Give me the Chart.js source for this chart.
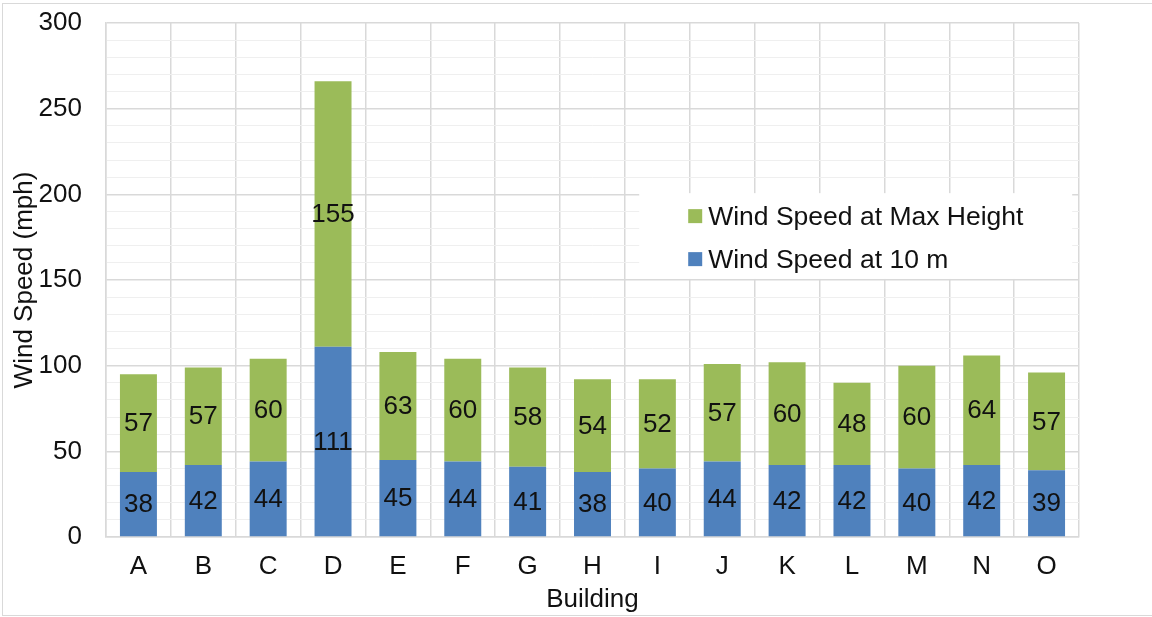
<!DOCTYPE html>
<html>
<head>
<meta charset="utf-8">
<script src="https://cdn.jsdelivr.net/npm/chart.js"></script>
<style>
  body { margin: 0; background: #fff; }
  #wrap { position: relative; width: 1152px; height: 617px; }
  #frame { position: absolute; left: 2px; top: 3px; width: 1150px; height: 611px;
           border-left: 1px solid #d9d9d9; border-top: 1px solid #d9d9d9; border-bottom: 1px solid #d9d9d9; }
  canvas { position: absolute; left: 0; top: 0; }
</style>
</head>
<body>
<div id="wrap">
  <div id="frame"></div>
  <canvas id="windChart" width="1152" height="617"></canvas>
</div>
<script>
const buildings = ['A','B','C','D','E','F','G','H','I','J','K','L','M','N','O'];
const speedAt10m = [38, 42, 44, 111, 45, 44, 41, 38, 40, 44, 42, 42, 40, 42, 39];
const speedAtMax = [57, 57, 60, 155, 63, 60, 58, 54, 52, 57, 60, 48, 60, 64, 57];
const yTicks = [0, 50, 100, 150, 200, 250, 300];

const FONT = "'Liberation Sans', Arial, sans-serif";
const TEXT = '#111';
const SIZE = 26;

// numbers in the middle of each stacked segment
const segmentLabels = {
  id: 'segmentLabels',
  afterDatasetsDraw(chart) {
    const ctx = chart.ctx;
    ctx.save();
    ctx.font = SIZE + 'px ' + FONT;
    ctx.fillStyle = TEXT;
    ctx.textAlign = 'center';
    ctx.textBaseline = 'middle';
    chart.data.datasets.forEach((ds, di) => {
      chart.getDatasetMeta(di).data.forEach((bar, i) => {
        const p = bar.getProps(['x', 'y', 'base'], true);
        ctx.fillText(ds.data[i], p.x, (p.y + p.base) / 2 + 1);
      });
    });
    ctx.restore();
  }
};

// legend box sitting inside the plot area
const insideLegend = {
  id: 'insideLegend',
  afterDatasetsDraw(chart) {
    const { ctx, chartArea } = chart;
    const w = chartArea.right - chartArea.left;
    const h = chartArea.bottom - chartArea.top;
    const bx = chartArea.left + w * 0.548;
    const by = chartArea.top + h * 0.331;
    const bw = w * 0.445;
    const bh = h * 0.167;
    ctx.save();
    ctx.fillStyle = '#fff';
    ctx.fillRect(bx, by, bw, bh);
    ctx.font = '26.5px ' + FONT;
    ctx.textBaseline = 'middle';
    const items = chart.data.datasets.slice().reverse();
    items.forEach((ds, k) => {
      const cy = by + 23 + k * 43;
      ctx.fillStyle = ds.backgroundColor;
      ctx.fillRect(bx + 49, cy - 7, 14, 14);
      ctx.fillStyle = TEXT;
      ctx.fillText(ds.label, bx + 69, cy + 2);
    });
    ctx.restore();
  }
};

new Chart(document.getElementById('windChart'), {
  type: 'bar',
  data: {
    labels: buildings,
    datasets: [
      { label: 'Wind Speed at 10 m', data: speedAt10m, backgroundColor: '#4f81bd' },
      { label: 'Wind Speed at Max Height', data: speedAtMax, backgroundColor: '#9bbb59' }
    ]
  },
  options: {
    responsive: false,
    animation: false,
    layout: { padding: { left: 0, top: 23, right: 73, bottom: 0 } },
    datasets: { bar: { categoryPercentage: 1, barPercentage: 0.57 } },
    plugins: { legend: { display: false }, tooltip: { enabled: false } },
    scales: {
      x: {
        stacked: true,
        grid: { color: '#d9d9d9', lineWidth: 1.5, drawTicks: false, offset: true },
        border: { color: '#d9d9d9', width: 1.5 },
        ticks: { color: TEXT, font: { family: FONT, size: SIZE }, padding: 14 },
        title: { display: true, text: 'Building', color: TEXT, font: { family: FONT, size: SIZE }, padding: { top: 0, bottom: 2 } },
        afterFit(scale) { scale.height = 80; }
      },
      y: {
        stacked: true,
        min: 0,
        max: 300,
        grid: {
          drawTicks: false,
          color: c => yTicks.includes(c.tick.value) ? '#d9d9d9' : '#efefef',
          lineWidth: c => yTicks.includes(c.tick.value) ? 1.5 : 1
        },
        border: { color: '#d9d9d9', width: 1.5 },
        ticks: {
          stepSize: 10,
          autoSkip: false,
          color: TEXT,
          font: { family: FONT, size: SIZE },
          padding: 24,
          callback: v => yTicks.includes(v) ? v : ''
        },
        title: { display: true, text: 'Wind Speed (mph)', color: TEXT, font: { family: FONT, size: SIZE }, padding: { top: 9, bottom: 0 } },
        afterFit(scale) {
          scale.width = 106;
          scale.paddingTop = 0;
          scale.paddingBottom = 0;
        }
      }
    }
  },
  plugins: [segmentLabels, insideLegend]
});
</script>
</body>
</html>
